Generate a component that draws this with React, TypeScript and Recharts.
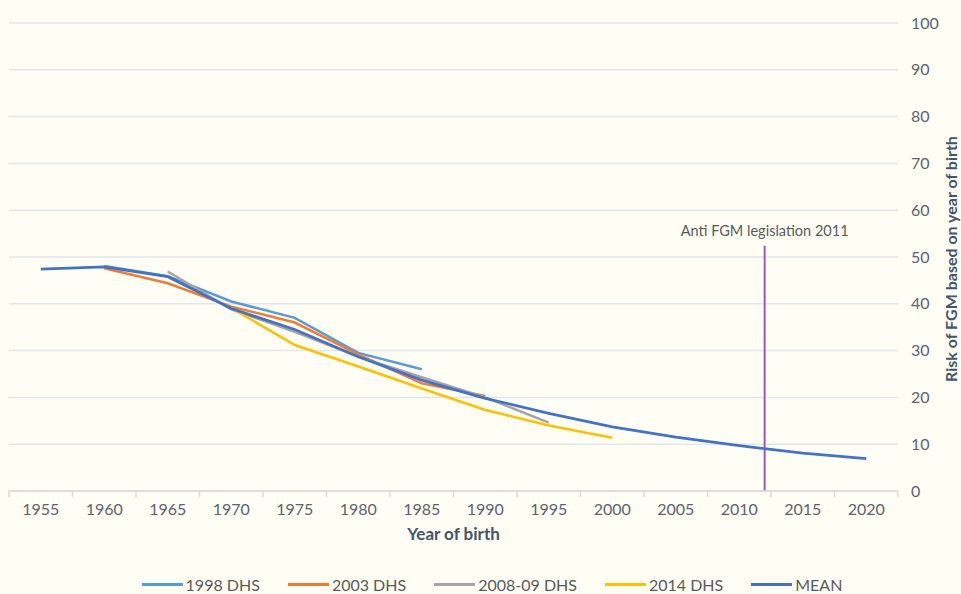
import React from 'react';
import { LineChart, Line, XAxis, YAxis, CartesianGrid, Legend, ReferenceLine } from 'recharts';

// year of birth categories (5-year steps)
const years = [1955, 1960, 1965, 1970, 1975, 1980, 1985, 1990, 1995, 2000, 2005, 2010, 2015, 2020];

// risk of FGM (%) per survey, null where the survey has no estimate
const dhs1998 = [null, 48.1, 45.9, 40.5, 37.0, 29.5, 26.0, null, null, null, null, null, null, null];
const dhs2003 = [null, 47.6, 44.4, 39.4, 36.0, 29.2, 23.0, 20.3, null, null, null, null, null, null];
const dhs2008 = [null, null, 46.9, 38.8, 34.0, 28.7, 24.3, 20.0, 14.6, null, null, null, null, null];
const dhs2014 = [null, null, null, 39.1, 31.2, 26.6, 21.9, 17.3, 14.0, 11.4, null, null, null, null];
const mean = [47.4, 47.9, 45.8, 39.0, 34.5, 28.7, 23.7, 19.8, 16.6, 13.7, 11.5, 9.7, 8.1, 6.9];

const yTicks = [0, 10, 20, 30, 40, 50, 60, 70, 80, 90, 100];

const legislationYear = 2012; // where the marker sits on the axis
const legislationTop = 52.4;
const legislationLabel = 'Anti FGM legislation 2011';

const series = [
  { key: 'dhs1998', name: '1998 DHS', color: '#5B9BD5', width: 2.5 },
  { key: 'dhs2003', name: '2003 DHS', color: '#ED7D31', width: 2.5 },
  { key: 'dhs2008', name: '2008-09 DHS', color: '#A5A5A5', width: 2.5 },
  { key: 'dhs2014', name: '2014 DHS', color: '#FFC000', width: 2.5 },
  { key: 'mean', name: 'MEAN', color: '#4472C4', width: 2.75 },
];

const data = years.map((year, i) => ({
  year,
  dhs1998: dhs1998[i],
  dhs2003: dhs2003[i],
  dhs2008: dhs2008[i],
  dhs2014: dhs2014[i],
  mean: mean[i],
}));

// tick marks sit between the year labels, like a category axis
const half = 2.5;
const xTicks: number[] = [];
years.forEach((y) => {
  xTicks.push(y - half);
  xTicks.push(y);
});
xTicks.push(years[years.length - 1] + half);

const FONT = 'Lato, "Open Sans", sans-serif';
const tickColor = '#5A6273';
const titleColor = '#44546A';

const XTick = (props: any) => {
  const { x, y, payload } = props;
  if (years.indexOf(payload.value) === -1) {
    return <line x1={x} x2={x} y1={y} y2={y + 6} stroke="#D9D9D9" strokeWidth={1.5} />;
  }
  return (
    <text x={x} y={y + 20} textAnchor="middle" dominantBaseline="middle" fill={tickColor} fontSize={16} fontFamily={FONT}>
      {payload.value}
    </text>
  );
};

const LegendBox = () => (
  <div style={{ display: 'flex', justifyContent: 'center', alignItems: 'center', height: 20, gap: 28, paddingLeft: 14, fontFamily: FONT, fontSize: 16, color: '#595959' }}>
    {series.map((s) => (
      <div key={s.key} style={{ display: 'flex', alignItems: 'center' }}>
        <span style={{ display: 'inline-block', width: 41, height: 3, background: s.color, marginRight: 3 }} />
        <span>{s.name}</span>
      </div>
    ))}
  </div>
);

export default function App() {
  return (
    <div style={{ position: 'absolute', left: 0, top: 0, width: 961, height: 594, background: '#FFFEF5' }}>
      <LineChart width={961} height={594} data={data} margin={{ top: 23, right: 0, bottom: 0, left: 9 }}>
        <CartesianGrid vertical={false} stroke="#E1E5EC" strokeWidth={1.5} />
        <XAxis
          dataKey="year"
          type="number"
          domain={[years[0] - half, years[years.length - 1] + half]}
          ticks={xTicks}
          interval={0}
          tickLine={false}
          tickSize={0}
          tickMargin={0}
          axisLine={{ stroke: '#D9D9D9', strokeWidth: 1.5 }}
          height={83}
          tick={<XTick />}
          label={{
            content: (p: any) => {
              const vb = p.viewBox || {};
              return (
                <text x={vb.x + vb.width / 2} y={vb.y + 45} textAnchor="middle" dominantBaseline="middle" fill={titleColor} fontSize={17} fontWeight={700} fontFamily={FONT}>
                  Year of birth
                </text>
              );
            },
          }}
        />
        <YAxis
          orientation="right"
          width={63}
          domain={[0, 100]}
          ticks={yTicks}
          interval={0}
          tickLine={false}
          axisLine={false}
          tickSize={0}
          tickMargin={13}
          tick={{ fill: tickColor, fontSize: 16, fontFamily: FONT }}
          label={{
            content: (p: any) => {
              const vb = p.viewBox || {};
              const cx = 953;
              const cy = vb.y + vb.height / 2 + 2;
              return (
                <text x={cx} y={cy} transform={`rotate(-90 ${cx} ${cy})`} textAnchor="middle" dominantBaseline="middle" fill={titleColor} fontSize={16} fontWeight={700} fontFamily={FONT}>
                  Risk of FGM based on year of birth
                </text>
              );
            },
          }}
        />
        <ReferenceLine
          segment={[{ x: legislationYear, y: 0 }, { x: legislationYear, y: legislationTop }]}
          stroke="#9B59B6"
          strokeWidth={2}
          label={{ value: legislationLabel, position: 'top', offset: 10, fill: '#595959', fontSize: 14.5, fontFamily: FONT }}
        />
        {series.map((s) => (
          <Line
            key={s.key}
            type="linear"
            dataKey={s.key}
            name={s.name}
            stroke={s.color}
            strokeWidth={s.width}
            dot={false}
            activeDot={false}
            isAnimationActive={false}
          />
        ))}
        <Legend verticalAlign="bottom" align="center" content={<LegendBox />} />
      </LineChart>
    </div>
  );
}
